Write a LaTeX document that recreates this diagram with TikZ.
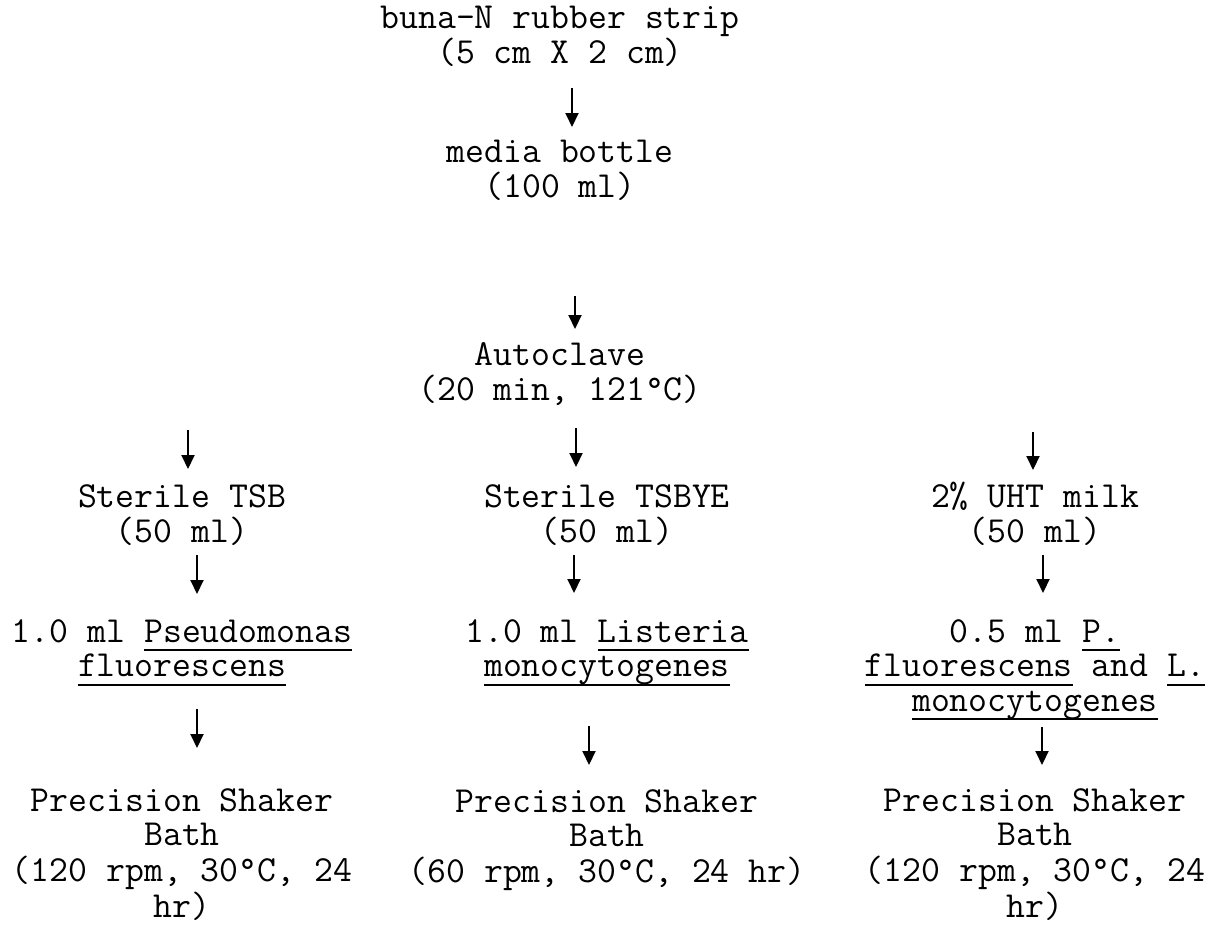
\documentclass[tikz,border=0pt]{standalone}
\usepackage{fontspec}
\usetikzlibrary{arrows.meta}
\newcommand\ulx[1]{\setbox0\hbox{#1}\rlap{\rule[-9pt]{\wd0}{2pt}}\box0\relax}
\newcommand\stk[1]{\begin{tabular}[t]{@{}c@{}}#1\end{tabular}}
\begin{document}
\begin{tikzpicture}[x=1pt,y=-1pt,
  lbl/.style={anchor=base,inner sep=0pt,outer sep=0pt,font=\ttfamily\fontsize{36.7}{34.5}\selectfont},
  arr/.style={line width=2pt,-{Triangle[width=13pt,length=14pt]}}]
\useasboundingbox (0,0) rectangle (1225,926);
\node[lbl] (top) at (560,28) {\stk{buna-N rubber strip\\(5 cm X 2 cm)}};
\node[lbl] (media) at (560,162) {\stk{media bottle\\(100 ml)}};
\node[lbl] (auto) at (560,365) {\stk{Autoclave\\(20 min, 121°C)}};
\node[lbl] (tsb) at (182,507) {\stk{Sterile TSB\\(50 ml)}};
\node[lbl] (tsbye) at (607,507) {\stk{Sterile TSBYE\\(50 ml)}};
\node[lbl] (milk) at (1035,507) {\stk{2\% UHT milk\\(50 ml)}};
\node[lbl] (pf) at (182,642) {\stk{1.0 ml \ulx{Pseudomonas}\\\ulx{fluorescens}}};
\node[lbl] (lm) at (607,642) {\stk{1.0 ml \ulx{Listeria}\\\ulx{monocytogenes}}};
\node[lbl] (mix) at (1035,642) {\stk{0.5 ml \ulx{P.}\\\ulx{fluorescens} and \ulx{L.}\\\ulx{monocytogenes}}};
\node[lbl] (sh1) at (182,811) {\stk{Precision Shaker\\Bath\\(120 rpm, 30°C, 24\\hr)}};
\node[lbl] (sh2) at (607,812) {\stk{Precision Shaker\\Bath\\(60 rpm, 30°C, 24 hr)}};
\node[lbl] (sh3) at (1035,811) {\stk{Precision Shaker\\Bath\\(120 rpm, 30°C, 24\\hr)}};
% arrow end points
\coordinate (a1s) at (572,88);  \coordinate (a1e) at (572,127);
\coordinate (a2s) at (575,296); \coordinate (a2e) at (575,329);
\coordinate (a3s) at (188,430); \coordinate (a3e) at (188,469);
\coordinate (a4s) at (576,428); \coordinate (a4e) at (576,467);
\coordinate (a5s) at (1033,432);\coordinate (a5e) at (1033,470);
\coordinate (a6s) at (197,555); \coordinate (a6e) at (197,594);
\coordinate (a7s) at (574,555); \coordinate (a7e) at (574,593);
\coordinate (a8s) at (1043,555);\coordinate (a8e) at (1043,593);
\coordinate (a9s) at (197,709); \coordinate (a9e) at (197,748);
\coordinate (a10s) at (589,726);\coordinate (a10e) at (589,765);
\coordinate (a11s) at (1042,727);\coordinate (a11e) at (1042,765);
\foreach \i in {1,...,11} \draw[arr] (a\i s) -- (a\i e);
\end{tikzpicture}
\end{document}
